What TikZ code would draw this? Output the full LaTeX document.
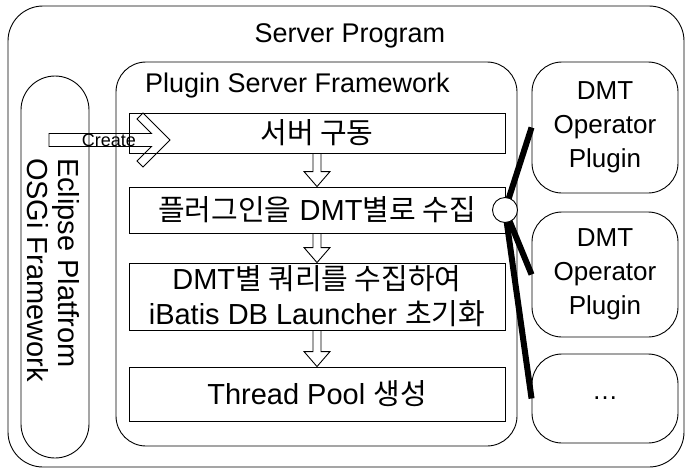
\documentclass[tikz,border=0pt]{standalone}
\usepackage{fontspec}
\setmainfont{Liberation Sans}
\newfontfamily\kr{Noto Sans CJK KR}
\usetikzlibrary{calc}

\tikzset{
  thin line/.style={line width=0.9pt},
  frame/.style={draw, thin line, rounded corners=#1, inner sep=0pt},
  stepbox/.style={draw, thin line, minimum width=376, inner sep=0pt, align=center,
    font=\fontsize{29}{35}\selectfont},
  pluginbox/.style={draw, thin line, rounded corners=30, minimum width=146, inner sep=0pt,
    align=center, font=\fontsize{26}{34}\selectfont},
  hollowarrow/.style={draw, thin line, line join=miter},
  bond/.style={line width=6pt},
  title/.style={inner sep=0pt, font=\fontsize{27}{30}\selectfont},
}

% hollow down arrow from the bottom of one step to the top of the next
\newcommand\stepflow[2]{%
  \draw[hollowarrow] ($(#1.south)+(-4,0)$) -- ($(#2.north)+(-4,-15)$)
    -- ($(#2.north)+(-13,-15)$) -- (#2.north) -- ($(#2.north)+(13,-15)$)
    -- ($(#2.north)+(4,-15)$) -- ($(#1.south)+(4,0)$);}

\begin{document}
\begin{tikzpicture}[x=1pt,y=-1pt]
\useasboundingbox (0,0) rectangle (689,472);
\fill[white] (0,0) rectangle (689,472);

% outer container
\node[frame=35, minimum width=676, minimum height=461] (server) at (346,236.5) {};
\node[title] (servertitle) at (350,36) {Server Program};

% OSGi platform pill
\node[frame=34, minimum width=68, minimum height=382] (osgi) at (55,267) {};
\node[rotate=-90, align=left, inner sep=0pt, font=\fontsize{29}{31}\selectfont]
  (osgitext) at (53,270) {Eclipse Platfrom\\OSGi Framework};

% plugin server framework
\node[frame=30, minimum width=401, minimum height=384] (psf) at (316.5,254) {};
\node[title, anchor=base west] (psftitle) at (145,92) {Plugin Server Framework};

% processing steps
\node[stepbox, minimum height=40] (b1) at (317,133) {\kr 서버 구동};
\node[stepbox, minimum height=46] (b2) at (317,210) {{\kr 플러그인을} DMT{\kr 별로 수집}};
\node[stepbox, minimum height=67] (b3) at (317,296.5)
  {DMT{\kr 별 쿼리를 수집하여}\\iBatis DB Launcher {\kr 초기화}};
\node[stepbox, minimum height=54] (b4) at (317,394) {Thread Pool {\kr 생성}};

\stepflow{b1}{b2}
\stepflow{b2}{b3}
\stepflow{b3}{b4}

% create arrow from the platform into the framework
\coordinate (createtip) at (170,140);
\draw[hollowarrow] ($(createtip)+(-121,-6.5)$) -- ($(createtip)+(-18.5,-6.5)$)
  -- ($(createtip)+(-33,-21)$) -- ($(createtip)+(-27,-27)$) -- (createtip)
  -- ($(createtip)+(-27,27)$) -- ($(createtip)+(-33,21)$)
  -- ($(createtip)+(-18.5,6.5)$) -- ($(createtip)+(-121,6.5)$) -- cycle;
\node[inner sep=0pt, font=\fontsize{18}{20}\selectfont] (createlabel) at (109,140) {Create};

% operator plugins
\node[pluginbox, minimum height=131] (dmt1) at (605,127.5) {DMT\\Operator\\Plugin};
\node[pluginbox, minimum height=125] (dmt2) at (605,274.5) {DMT\\Operator\\Plugin};
\node[pluginbox, minimum height=89] (dmt3) at (605,398.5) {…};

% plugin port and its bindings
\coordinate (hub) at (505,210);
\draw[bond] (hub) -- (dmt1.west);
\draw[bond] (hub) -- (dmt2.west);
\draw[bond] (hub) -- (dmt3.west);
\node[circle, draw, thin line, fill=white, minimum size=25, inner sep=0pt] (port) at (hub) {};
\end{tikzpicture}
\end{document}
